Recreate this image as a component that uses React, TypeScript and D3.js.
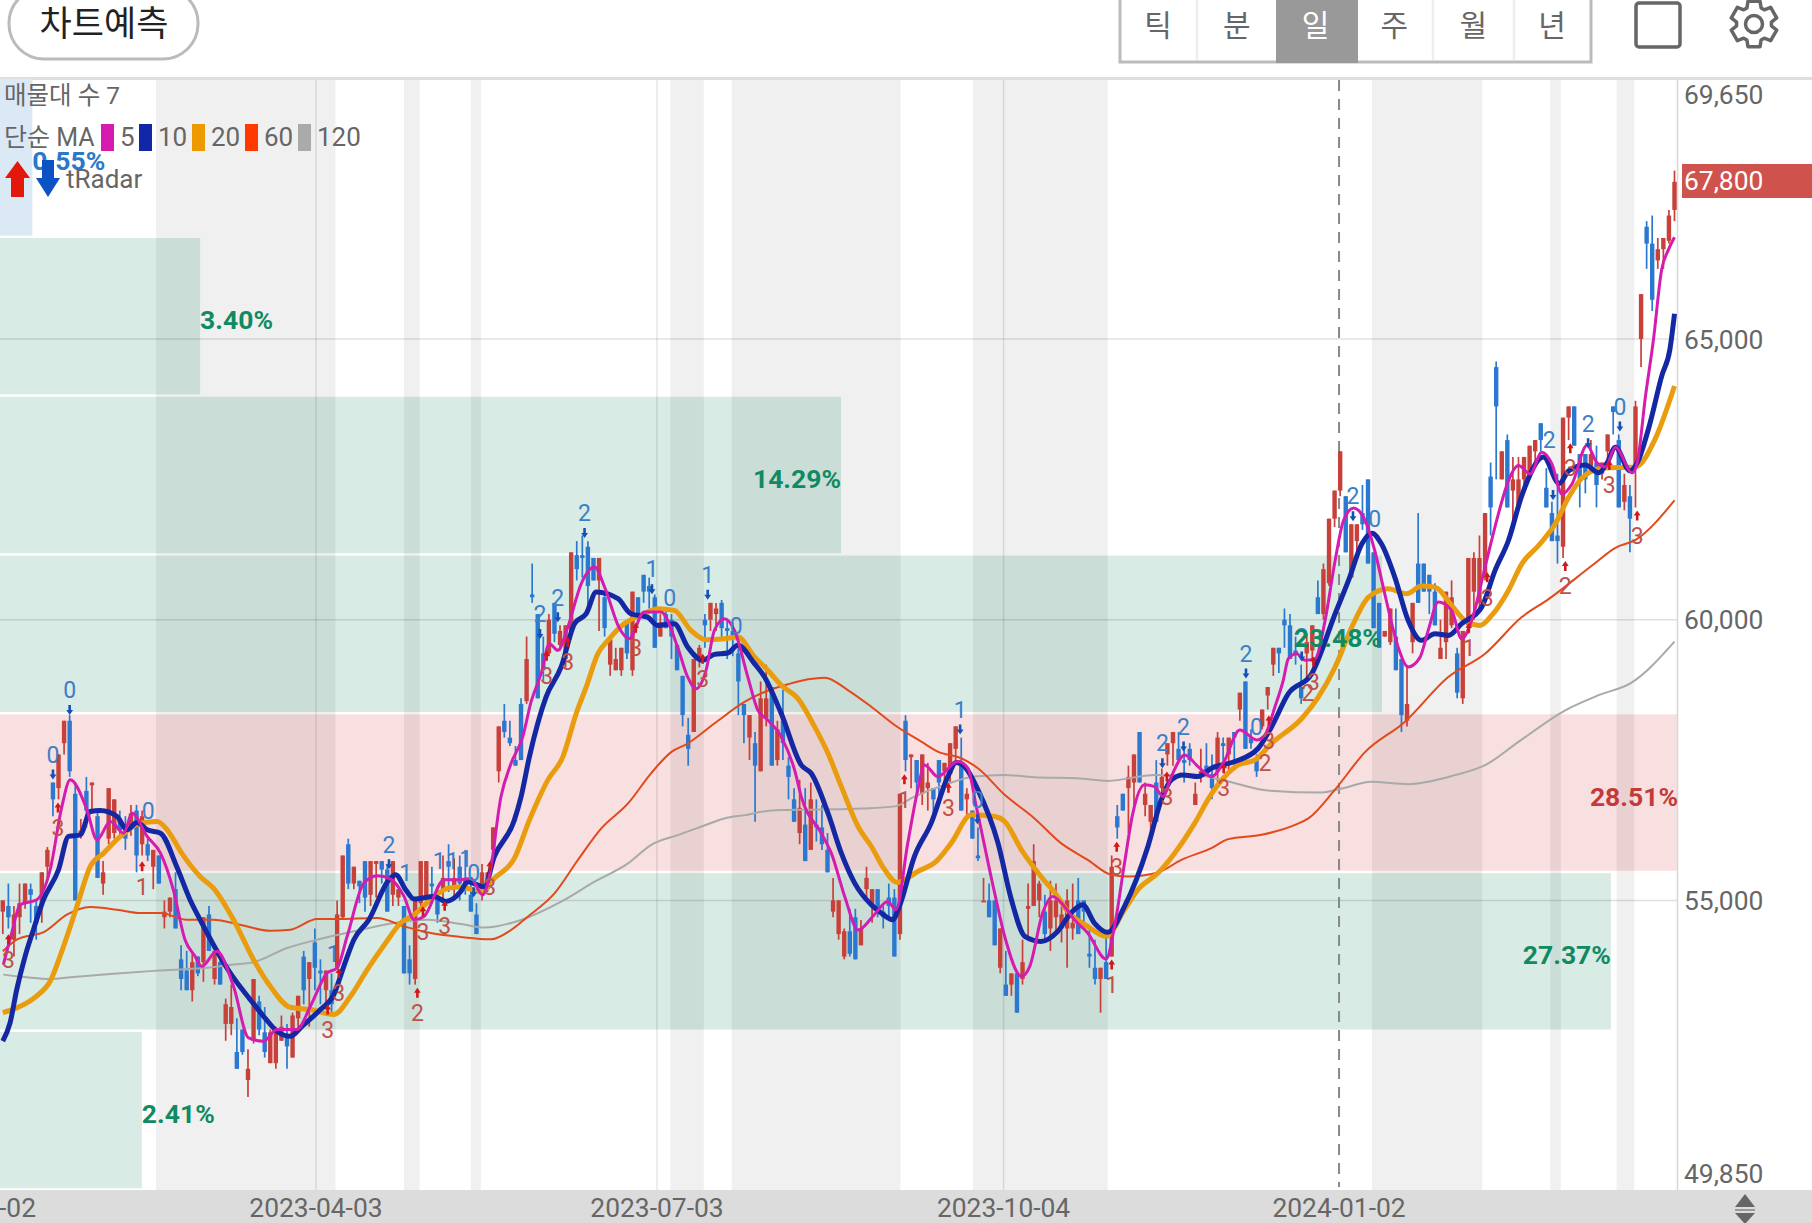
import * as d3 from 'd3';

const FONT = "Roboto, 'Noto Sans CJK KR', sans-serif";

// daily candles as [open, high, low, close]
const candlesSpring = [
  [54800,55000,54400,55000],[54900,55300,54500,54700],[54300,54900,54000,54750],[54700,55300,54400,54950],[54950,55300,54850,55300],
  [55200,55300,54600,55100],[54900,55000,54300,54600],[54950,55500,54600,55500],[55600,55950,55350,55900],[57100,57100,56500,56800],
  [57000,57600,56800,57600],[57800,58200,57600,58200],[58200,58300,57200,57300],[56900,57100,55000,55000],[56150,56450,56100,56250],
  [56950,57200,56300,56600],[57050,57100,56550,57100],[56500,56600,55400,55400],[55300,55700,55100,55500],[56100,57000,56000,57000],
  [56200,56800,56100,56800],[56450,56600,56100,56250],[56250,56500,55900,56100],[56300,56700,56150,56550],[56600,56700,55500,55800],
  [56000,56600,55800,56500],[56000,56100,55700,55800],[55600,55900,55200,55900],[55800,55800,55300,55300],[54700,55000,54500,54800],
  [54800,55050,54700,55050],[55200,55500,54500,54500],[53950,54200,53400,53600],[53750,54100,53400,53400],[53400,54050,53200,53900],
  [54000,54000,53650,53700],[53900,54700,53550,54700],[54750,54900,54100,54100],[53600,54100,53500,54100],[53900,54050,53500,53500],
  [52800,53250,52500,53150],[52800,53500,52600,53100],[52300,52900,52000,52000],[52700,52700,52250,52300],[51800,52350,51500,52000],
  [52500,53600,52450,53600],[53200,53300,52600,52700],[52650,53100,52200,52300],[52100,52700,52100,52650],[52100,52750,52000,52700],
  [52500,52950,52500,52750],[52600,52800,52000,52400],[52200,53000,52200,52950],[52900,53300,52750,53300],[54000,54100,53150,53400],
  [53600,53900,52750,53900],[54250,54500,53400,53800],[53750,53950,53150,53700],[53400,53750,53150,53750],[53400,53700,53000,53150],
];
const candlesSummer = [
  [53800,55000,53800,54750],[54700,55800,54650,55800],[56000,56100,55200,55300],[55300,55600,55200,55600],[55350,55350,54950,55250],
  [55700,55700,54800,55050],[55100,55700,54900,55700],[55650,55700,55050,55700],[55700,55700,55300,55550],[55550,55650,54800,54800],
  [55100,55700,54900,55700],[55050,55200,54900,55200],[54900,54900,53700,53700],[53950,54200,53500,53700],[53600,55050,53500,55050],
  [54950,55700,54800,55700],[55050,55700,54950,55700],[55300,55600,54950,55250],[55050,55200,54600,54750],[55150,55800,54950,55400],
  [55700,56000,55150,55600],[55250,55750,55050,55400],[55600,55800,55000,55300],[55400,55900,55100,55250],[55100,55350,54800,54800],
  [54750,54950,54400,54400],[55100,55650,55000,55500],[55200,55500,55150,55500],[55900,56300,55750,56300],[57300,58100,57100,58100],
  [58200,58500,57900,58000],[57900,58200,57750,57800],[57500,57750,57400,57400],[58500,58600,57500,57500],[58550,59700,58500,59300],
  [60450,61000,60300,60400],[60100,60100,58600,58600],[59400,59700,58900,59100],[59400,60100,59350,60000],[60300,60300,59600,59750],
  [59550,59900,59450,59800],[59300,59900,59150,59900],[59800,61200,59650,61200],[61150,61400,60700,60900],[61150,61500,60750,61100],
  [61300,61400,60150,60600],[61100,61100,60700,60700],[60700,61100,59800,61100],[60400,60500,59700,59850],[59200,59650,59000,59650],
  [59100,59500,59100,59300],[59100,59500,59000,59500],[59950,59950,59300,59400],[59100,60500,59000,60500],[60400,60400,60050,60100],
  [60800,60800,60300,60500],[60600,60750,60200,60500],[60400,60450,59500,59500],
];
const candlesAutumn = [
  [59700,60100,59700,59950],[60100,60200,59850,59850],[60000,60100,59300,59700],[59550,59550,59100,59100],[59000,59000,58100,58300],
  [57950,58250,57400,57700],[58000,59300,58000,59300],[59300,59550,59150,59500],[60000,60100,59500,59900],[60000,60300,59800,60300],
  [60100,60300,59800,60200],[60300,60350,59650,59850],[59850,60000,59300,59800],[59800,59950,59350,59650],[59400,59550,58300,58900],
  [58500,58500,57800,58300],[57900,58300,57500,58300],[57800,58000,56400,57400],[57300,58900,57300,58600],[58250,59200,58100,58600],
  [58800,58800,57400,57400],[57500,58200,57400,58050],[58200,58750,57500,57800],[57400,57550,56800,57200],[56800,57000,56400,56400],
  [56200,57150,56000,56650],[56350,57000,55700,55700],[55900,57100,55900,56800],[56350,56800,56050,56300],[56300,56700,55900,56000],
  [55900,56200,55500,55500],[54800,55400,54700,55000],[54400,55000,54300,55000],[54000,54500,53950,54450],[54450,54850,54000,54050],
  [54700,54850,53950,53950],[54200,54650,54200,54500],[55200,55600,55000,55400],[54900,55200,54600,55200],[55200,55200,54700,54850],
  [54800,54900,54500,54700],[55050,55300,54700,54900],[55050,55200,54000,54000],[54400,56900,54300,56900],[58200,58300,57300,57500],
  [57550,57600,57000,57600],[57500,57500,56900,57100],[56900,57600,56700,57600],[57000,57450,56600,57100],[57000,57000,56500,56800],
  [57500,57500,56850,57100],[57300,57450,57100,57450],[57250,57800,57100,57800],[57700,58100,57500,58100],[57450,57900,56600,56600],
  [56800,57000,56500,56900],[56600,56600,56100,56100],[55800,56300,55700,55750],[55000,55400,55000,55000],[55000,55300,54700,54700],
  [55000,55000,54200,54200],[53800,54500,53700,54500],
];
const candlesWinter = [
  [53500,54100,53300,53300],[53500,53700,53300,53700],[53700,53700,53000,53000],[53600,54300,53500,53900],[54850,55300,54350,54900],
  [54900,56000,54900,55700],[55000,55350,54700,55300],[54800,55100,54250,54400],[54500,55350,54100,55000],[54700,55300,54400,55000],
  [54500,54900,54250,54750],[54500,55200,53800,55000],[54500,55300,54300,54600],[55000,55400,54400,54400],[55000,55000,54550,54800],
  [54050,54500,53800,54000],[53800,54300,53500,53600],[53600,53800,53000,53800],[53900,54400,53600,53600],[54000,55800,54000,55600],
  [56500,56700,56100,56300],[56900,56900,56600,56600],[57000,57400,56200,57200],[57100,57600,56700,57600],[58000,58000,57100,57100],
  [56700,57100,56500,56900],[56400,56700,56100,56700],[57100,57500,56400,56400],[57000,57350,56900,57200],[57600,57800,57400,57800],
  [57800,58000,57400,58000],[57700,58000,57450,57500],[57500,57700,57100,57450],[57700,57800,57400,57500],[56700,57100,56700,56900],
  [57250,57700,57100,57300],[57400,57800,57200,57250],[57250,57600,56800,57000],[57300,58000,57100,57900],[57800,57900,57350,57750],
  [57600,57900,57300,57900],[58000,58000,57400,57900],[58400,58700,58200,58700],[58900,58900,57700,57700],[57900,58050,57700,57800],
  [57500,57600,57200,57300],[58100,58400,58050,58400],[58650,58800,58400,58800],[59200,59500,59000,59500],[59500,59500,59050,59400],
  [60000,60200,59500,59900],[59900,60100,59300,59300],[59450,59700,59200,59400],[58800,59200,58500,58600],[59400,59750,58900,59600],
  [59450,59900,59300,59900],[60400,60700,60100,60100],[60100,61000,60000,60900],[60650,61800,60600,61800],[61800,62300,61650,62300],
];
const candlesNewYear = [
  [62300,63000,62200,63000],[62200,62200,61200,61200],[60750,61700,60750,61700],[61400,61700,61100,61700],[61900,62400,61600,61700],
  [62500,62500,61000,61000],[61200,61200,59850,59850],[60300,60300,59500,59500],[59700,59800,59700,59800],[59600,60200,59550,60200],
  [59700,60200,59100,59100],[59300,59300,58000,58300],[58200,59200,58100,58500],[59600,60300,59400,60300],[61000,61900,60300,60300],
  [61000,61000,60500,60500],[60800,60800,60100,60500],[60500,60650,59900,59900],[59300,60000,59300,59500],[59600,60500,59300,60500],
  [59900,60700,59850,60400],[59400,59500,58600,58700],[58600,59800,58500,59800],[59900,61100,59750,61100],[60500,61200,60000,61100],
  [60300,61500,60200,61100],[60800,61900,60700,61900],[62550,62800,61500,62000],[64500,64600,62500,63800],[62500,63000,62500,63000],
  [63200,63300,62000,62000],[62300,62900,61750,62500],[62000,62900,62000,62500],[62500,62900,62250,62900],[62600,63100,62550,63100],
  [63000,63200,62750,63200],[63500,63500,63000,63200],[62350,62700,62000,62000],[61900,62100,61400,61400],[61500,62600,61000,61400],
  [61300,63600,61100,63600],[63600,63800,63200,63800],[63800,63800,63100,63100],[62950,62950,62000,62500],[62950,62950,62250,62500],
  [62700,63200,62600,62950],[62800,63100,62000,62400],[62600,62800,62500,62800],[63000,63300,62700,63300],[63800,63800,63300,63700],
  [63200,63300,62000,62000],[62100,62600,61950,62400],[62200,62400,61200,61800],[62700,63900,62000,63800],[65000,65800,64500,65800],
  [67000,67100,66250,66700],[66700,67200,65500,65700],[66400,66800,66250,66600],[66600,66800,66250,66800],[66750,67300,66700,67200],
  [67300,68000,67100,67800],
];
const candles = [...candlesSpring, ...candlesSummer, ...candlesAutumn, ...candlesWinter, ...candlesNewYear];

// moving averages as [candle index, price]
const ma5 = [
  [0.1,53855],[1.6,54419],[3.1,54923],[6.1,55012],[8.5,55546],[10.6,56672],[12.1,57147],[15.1,56613],[16.9,56079],[19.3,56405],
  [21.7,56198],[23.2,56554],[25.9,56139],[28.3,55842],[30.6,55190],[32.7,54300],[34.5,54004],[35.7,53826],[38.4,54093],[41.4,53470],
  [44.1,52551],[46.8,52492],[49.2,52699],[52.8,52699],[55.2,53114],[58.2,53707],[60,53796],[61.8,54360],[64.8,55308],[67.2,55439],
  [69.6,55380],[72,55071],[73.8,54656],[75.6,54715],[79.2,55368],[82.2,55368],[84,55392],[86.1,55096],[87.3,55422],[89.4,56845],
  [91.2,57438],[93.3,57913],[94.8,58535],[96.6,59039],[98.1,59573],[99.6,59454],[101.4,59870],[103.8,60640],[106.2,60937],[108,60581],
  [110.7,59840],[112.4,59662],[115.1,60136],[118.1,60136],[121.1,59514],[122.9,58980],[124.4,58772],[126.2,59099],[127.7,59810],[129.5,60018],
  [131.3,59810],[133.7,58980],[135.5,58387],[137,58239],[139.7,57913],[142.1,57320],[143.3,56845],[146.9,56193],[148.7,55837],[151.1,55066],
  [153.5,54473],[156.4,54745],[158.8,54982],[160.3,54834],[162.4,56020],[164.2,56969],[165.4,57414],[167.8,57206],[171.4,57473],[173.2,57354],
  [174.7,56672],[178,55130],[179.8,54360],[182.8,53648],[184.3,53826],[186.6,54775],[188.4,55071],[190.5,54893],[192.3,54656],[194.7,54419],
  [198,53956],[199.5,54537],[201.3,55664],[202.8,56554],[204.9,57058],[206.7,57028],[208.2,56850],[209.7,57206],[212.1,57591],[214.5,57384],
  [216.9,57206],[219,57443],[222,58036],[225,57858],[226.5,57947],[228.3,58451],[229.8,58926],[230.7,59306],[232.2,59395],[233.7,59277],
  [235.5,59306],[237.3,59988],[239.1,61056],[240.6,61767],[242.4,61992],[244.5,61767],[246.2,61233],[248,60463],[250.4,59514],[252.2,59158],
  [254.3,59324],[255.8,59810],[257.6,60314],[260,60166],[261.8,59662],[263.6,59988],[266,60937],[268.4,61886],[270.2,62479],[272,62746],
  [274.1,62597],[276.2,62983],[278,62775],[279.8,62241],[281.6,62419],[284.3,63109],[286.1,62793],[287.6,62722],[289.4,63074],[292.4,62617],
  [293.3,62793],[294.8,63988],[296.2,64972],[297.7,66237],[298.9,66589],[300,66814],
];
const ma10 = [
  [0,52492],[1.3,52818],[2.5,53411],[4,54004],[5.5,54478],[7.3,55012],[10,55546],[11.8,56139],[13.9,56168],[15.7,56583],
  [17.5,56601],[20.5,56494],[22.3,56257],[24.1,56388],[25.9,56257],[28.3,56198],[31.2,55605],[33.6,55012],[35.4,54656],[37.8,54211],
  [40.8,53707],[44.4,53233],[46.8,52936],[49.2,52670],[51.6,52581],[53.7,52758],[57,53055],[59.4,53322],[61.2,53826],[63,54300],
  [65.7,54656],[69.3,55368],[70.5,55457],[72.3,55190],[73.8,55024],[77.4,55071],[79.5,54982],[82.2,55160],[83.4,55333],[86.4,55244],
  [88.2,55778],[91.8,56430],[93,56845],[94.5,57557],[97.5,58624],[100.2,59158],[102.6,59929],[104.7,60107],[106.5,60492],[110.4,60374],
  [112.7,60107],[115.7,60047],[117.5,59899],[120.5,59929],[122.9,59514],[125.6,59277],[127.7,59383],[130.1,59407],[131.9,59543],[134.9,59217],
  [136.7,58980],[139.7,58328],[143.3,57409],[145.1,57260],[148.1,56549],[150.5,55837],[152.9,55304],[155.9,54918],[157.7,54770],[159.7,54656],
  [160.9,54893],[163.6,55783],[166.6,56376],[169.6,57206],[171.1,57455],[172.6,57384],[175,56969],[178.6,56020],[181,55012],[183.4,54360],
  [186.3,54270],[189.3,54448],[191.7,54775],[193.8,54923],[195.9,54597],[198.3,54431],[201.3,54893],[205.5,55961],[207.9,56791],[209.7,57147],
  [211.8,57236],[214.5,57206],[216.9,57354],[221.1,57473],[225.3,57710],[227.7,58095],[230.7,58684],[234.9,59039],[239.1,60107],[241.5,60700],
  [243.9,61352],[245.7,61542],[247.4,61352],[249.8,60759],[252.2,59988],[254.6,59632],[257,59751],[259.4,59721],[261.8,59929],[265.4,60225],
  [267.8,60878],[270.2,61411],[272.6,62212],[276.5,62898],[279.3,62427],[281,62652],[284,62757],[286.4,62617],[287.9,62793],[289.4,63074],
  [292,62652],[293.3,62793],[295.4,63425],[297.7,64339],[299.2,64831],[300,65450],
];
const ma20 = [
  [0,53000],[2.5,53085],[6,53292],[8.5,53559],[10.9,54182],[13.3,54893],[15.7,55605],[18.1,55842],[21.1,56139],[24.7,56376],
  [27.7,56405],[29.5,56257],[32.1,55842],[35.4,55427],[37.8,55219],[41.4,54656],[45,53944],[48,53470],[51.6,53096],[55.2,53055],
  [59.4,52966],[62.4,53292],[65.4,53767],[68.7,54241],[71.4,54597],[73.8,54745],[77.4,55071],[80,55219],[82.2,55237],[85.8,55155],
  [88.2,55392],[91.8,55748],[94.5,56430],[97.8,57142],[100.5,57557],[102.9,58328],[104.7,58802],[106.8,59395],[108.6,59632],[111.5,59929],
  [114.5,60077],[117.5,60196],[120.5,60166],[123.5,59810],[126.2,59644],[129.5,59662],[131.9,59692],[134.9,59336],[137.3,59099],[139.7,58832],
  [142.7,58595],[145.7,58090],[148.1,57616],[150.5,57023],[153.5,56312],[155.9,55956],[158.3,55540],[160.5,55320],[164.2,55516],[167.5,55694],
  [170.2,56020],[173.8,56524],[178,56494],[179.8,56405],[182.8,55901],[186.3,55427],[189.3,55071],[191.1,54804],[194.7,54537],[198,54360],
  [201.3,54834],[203.7,55190],[207.3,55486],[210.3,55842],[213.9,56376],[216.6,56850],[219.3,57206],[221.7,57414],[224.7,57502],[227.7,57799],
  [233.1,58240],[236.1,58624],[239.1,59158],[242.1,59870],[245.1,60403],[248.6,60551],[251.9,60463],[254.6,60599],[257,60581],[260,60255],
  [262.4,59988],[265.1,59899],[267.2,60077],[270.2,60522],[272.6,60996],[275.6,61322],[278.6,61708],[281,62182],[283.4,62525],[287,62700],
  [293,62722],[296.5,63214],[300,64163],
];
const ma60 = [
  [0,54093],[2.5,54300],[7.6,54448],[11.5,54745],[15.7,54881],[20.5,54834],[24.7,54775],[28.3,54775],[33,54656],[37.8,54656],
  [42.6,54567],[48,54460],[51.6,54478],[56.4,54668],[60,54668],[67.2,54686],[72,54537],[76.8,54419],[82.2,54348],[87.6,54307],
  [91.2,54473],[94.2,54710],[99,55125],[103.2,55719],[107.4,56282],[112.2,56727],[116.3,57260],[120,57646],[122.9,57794],[127.7,58150],
  [133.1,58535],[136.7,58713],[140.9,58850],[144.5,58939],[147.5,58968],[151.7,58743],[155.9,58446],[160.1,58120],[164.9,57824],[167.8,57651],
  [172,57532],[175,57354],[179.8,56880],[185.1,56465],[189.9,56020],[194.7,55723],[198.9,55457],[201.9,55427],[207.3,55498],[211.5,55723],
  [216.9,55931],[219.9,56091],[225.9,56168],[231.9,56346],[234.3,56460],[239,56964],[244.5,57646],[251.6,58180],[259.4,58980],[266,59395],
  [272.6,60047],[277.4,60367],[285.2,60965],[289.4,61281],[293,61422],[300,62125],
];
const ma120 = [
  [0.1,53678],[4.3,53630],[8.5,53600],[12.7,53636],[19.3,53689],[27.7,53749],[36,53796],[41.4,53856],[45,53897],[51,54152],
  [56.4,54300],[63,54449],[70.2,54597],[76.2,54656],[82.2,54580],[86.4,54515],[93,54651],[100.2,54977],[106.2,55333],[112.2,55659],
  [116.3,55985],[121.1,56163],[125.3,56311],[129.5,56460],[133.1,56519],[138.5,56608],[146.9,56620],[154.1,56638],[160.1,56675],[163.6,56850],
  [169,57058],[174.4,57206],[179.8,57236],[185.1,57194],[192.9,57176],[198.3,57129],[206.7,57236],[213.9,57236],[219.9,57117],[227.1,56957],
  [236.7,56921],[240.3,56994],[245.6,57112],[252.2,57071],[260.6,57231],[266,57409],[272,57824],[280.4,58387],[286.5,58660],[292.3,58880],
  [300,59610],
];

// signal labels as [candle index, price, text, has arrow]
const peakMarks = [
  [12,58750,'0',1],[9,57600,'0',1],[26.1,56600,'0',0],[69.3,56000,'2',1],[72.3,55500,'1',0],[78.3,55700,'1',0],[59.3,54050,'1',0],
  [80.7,55700,'1',0],[83.1,55750,'1',0],[84.5,55500,'0',1],[104.4,61900,'2',1],[96.4,60100,'2',1],[99.6,60400,'2',1],[116.5,60900,'1',1],
  [119.7,60400,'0',0],[126.5,60800,'1',1],[131.6,59900,'0',0],[171.8,58400,'1',1],[174.9,56800,'0',1],[208.1,57800,'2',1],[211.9,58100,'2',1],
  [225,58100,'0',0],[223.1,59400,'2',1],[233.1,59700,'2',1],[242.3,62200,'2',1],[246.2,61800,'0',0],[277.5,63200,'2',0],[278.2,62580,'',1],
  [284.5,63500,'2',1],[290.2,63800,'0',1],
];
const troughMarks = [
  [9.9,56300,'3',1],[1,53950,'3',1],[25,55250,'1',1],[58.3,52700,'3',1],[60.3,53350,'3',1],[75.4,54450,'3',1],[74.4,53000,'2',1],
  [79.3,54550,'3',1],[87.4,55250,'3',1],[97.6,59000,'3',1],[101.4,59250,'3',1],[113.6,59500,'3',1],[125.6,58950,'3',1],[161.8,56800,'1',1],
  [169.7,56650,'3',1],[199.9,55600,'3',1],[199,53500,'1',1],[208.9,56850,'3',1],[219.1,57000,'3',1],[226.5,57450,'2',0],[227.2,57850,'3',1],
  [235.2,58900,'3',1],[234.2,58700,'2',0],[266.4,60400,'3',1],[263.1,59500,'1',1],[280.4,60600,'2',1],[281.3,62700,'3',1],[288.3,62400,'3',1],
  [293.3,61500,'3',1],
];

// volume profile, top price band first
const profilePercents = [0.55, 3.4, 14.29, 23.48, 28.51, 27.37, 2.41];
const profileKinds = ['low', 'mid', 'mid', 'mid', 'high', 'mid', 'mid'];

// shaded tRadar spans in candle indices
const radarStart = [27.5, 72, 84, 119.8, 130.8, 174.1, 245.7, 277.7, 289.6];
const radarEnd = [59.7, 74.8, 85.8, 125.8, 161.1, 198.3, 265.5, 279.6, 292.8];

const priceTicks = [69650, 65000, 60000, 55000, 49850];
const dateTicks = ['2023-01-02', '2023-04-03', '2023-07-03', '2023-10-04', '2024-01-02'];
const dateTickIndex = [-6, 56.2, 117.4, 179.6, 239.8];
const maPeriods = ['5', '10', '20', '60', '120'];
const tabs = ['틱', '분', '일', '주', '월', '년'];

const maColors = ['#d41cb0', '#1428a4', '#e99c0e', '#e24a1c', '#a9a9a9'];
const legendColors = ['#d81bb0', '#1226a8', '#ec9a00', '#ff3a00', '#aaaaaa'];
const RED = '#c8403a';
const BLUE = '#2a78d0';

const y = d3.scaleLinear().domain([49850, 69650]).range([1189.5, 78]);
const x = d3.scaleLinear().domain([0, candles.length - 1]).range([2.8, 1674.5]);
const pct = d3.scaleLinear().domain([0, 28.51]).range([0, 1678]);

const maLine = d3.line<number[]>()
  .x((d) => x(d[0]))
  .y((d) => y(d[1]))
  .curve(d3.curveMonotoneX);

const maSeries = [ma120, ma60, ma20, ma10, ma5];
const maSeriesColors = [maColors[4], maColors[3], maColors[2], maColors[1], maColors[0]];
const maSeriesWidths = [2, 2, 5, 5, 3];

const bandHeight = (69650 - 49850) / profilePercents.length;

// settings icon outline
const gearOutline = d3.lineRadial<number[]>()
  .angle((d) => d[0])
  .radius((d) => d[1])
  .curve(d3.curveLinearClosed)(
    d3.range(6).flatMap((i) => {
      const a = (i * Math.PI) / 3;
      return [[a - 0.26, 23.5], [a + 0.26, 23.5], [a + 0.42, 17.5], [a + 0.63, 17.5]];
    })
  );

const App = () => {
  return (
    <svg
      width={1812}
      height={1223}
      viewBox="0 0 1812 1223"
      style={{ position: 'absolute', left: 0, top: 0, display: 'block', background: '#fff' }}
      fontFamily={FONT}
    >
      {/* header */}
      <rect x={9} y={-12} width={189} height={71} rx={35} fill="#fff" stroke="#bbb" strokeWidth={3} />
      <text x={104} y={36} textAnchor="middle" fontSize={35} fill="#222">차트예측</text>
      <rect x={1120} y={-3} width={471} height={65} fill="#fff" stroke="#bbb" strokeWidth={3} />
      <rect x={1276} y={0} width={82} height={63} fill="#999" />
      {[1197, 1433, 1514].map((sx) => (
        <line key={sx} x1={sx} x2={sx} y1={0} y2={60} stroke="#eee" strokeWidth={2.5} />
      ))}
      {tabs.map((t, i) => (
        <text key={t} x={1158 + i * 78.8} y={36} textAnchor="middle" fontSize={30} fill={i === 2 ? '#fff' : '#666'}>{t}</text>
      ))}
      <rect x={1636} y={3} width={44} height={44} rx={3} fill="none" stroke="#666" strokeWidth={3.5} />
      <g transform="translate(1754,24)" fill="none" stroke="#666" strokeWidth={3.5} strokeLinejoin="round">
        <path d={gearOutline || ''} />
        <circle r={8.5} />
      </g>
      <rect x={0} y={77} width={1812} height={3} fill="#dedede" />

      {/* volume profile */}
      {profilePercents.map((p, i) => {
        const top = y(69650 - i * bandHeight);
        const bottom = y(69650 - (i + 1) * bandHeight);
        const kind = profileKinds[i];
        const fill = kind === 'high' ? '#f8dfe0' : kind === 'low' ? '#dbe9f7' : '#d8ebe5';
        return <rect key={p} x={0} y={top + 1.2} width={pct(p)} height={bottom - top - 2.4} fill={fill} />;
      })}

      {/* radar spans */}
      {radarStart.map((s, i) => (
        <rect key={s} x={x(s)} y={80} width={x(radarEnd[i]) - x(s)} height={1110} fill="#000" fillOpacity={0.06} />
      ))}

      {/* grid */}
      {priceTicks.slice(1, 4).map((t) => (
        <line key={t} x1={0} x2={1677} y1={y(t)} y2={y(t)} stroke="#000" strokeOpacity={0.12} strokeWidth={1.5} />
      ))}
      {dateTickIndex.slice(1, 4).map((k) => (
        <line key={k} x1={x(k)} x2={x(k)} y1={80} y2={1190} stroke="#000" strokeOpacity={0.1} strokeWidth={1.5} />
      ))}
      <line x1={1677.5} x2={1677.5} y1={80} y2={1190} stroke="#d8d8d8" strokeWidth={1.5} />
      <line x1={x(239.8)} x2={x(239.8)} y1={80} y2={1187} stroke="#888" strokeWidth={2} strokeDasharray="11 8" />

      {/* candles */}
      {candles.map((c, i) => {
        const [open, high, low, close] = c;
        const color = close >= open ? RED : BLUE;
        const top = y(Math.max(open, close));
        const bottom = y(Math.min(open, close));
        return (
          <g key={i}>
            <line x1={x(i)} x2={x(i)} y1={y(high)} y2={y(low)} stroke={color} strokeWidth={1.7} />
            <rect x={x(i) - 2.2} y={top} width={4.4} height={Math.max(bottom - top, 2)} fill={color} />
          </g>
        );
      })}

      {/* moving averages */}
      {maSeries.map((s, i) => (
        <path
          key={i}
          d={maLine(s) || ''}
          fill="none"
          stroke={maSeriesColors[i]}
          strokeWidth={maSeriesWidths[i]}
          strokeLinejoin="round"
        />
      ))}

      {/* signal marks */}
      {peakMarks.map((m, i) => (
        <g key={i} transform={`translate(${x(m[0] as number)},${y(m[1] as number)})`}>
          <text textAnchor="middle" dy="0.36em" fontSize={23} fill="#3a80c8">{m[2]}</text>
          {m[3] ? <path d="M-1.3,15 H1.3 V20 H3.4 L0,25 L-3.4,20 H-1.3 Z" fill="#1450b8" /> : null}
        </g>
      ))}
      {troughMarks.map((m, i) => (
        <g key={i} transform={`translate(${x(m[0] as number)},${y(m[1] as number)})`}>
          <text textAnchor="middle" dy="0.36em" fontSize={23} fill="#c0504a">{m[2]}</text>
          {m[3] ? <path d="M-1.3,-15 H1.3 V-20 H3.4 L0,-25 L-3.4,-20 H-1.3 Z" fill="#d01818" /> : null}
        </g>
      ))}

      {/* volume profile labels */}
      {profilePercents.map((p, i) => {
        const mid = y(69650 - (i + 0.5) * bandHeight);
        const kind = profileKinds[i];
        const fill = kind === 'high' ? '#c43a3a' : kind === 'low' ? '#2a78c8' : '#0f8a62';
        return (
          <text
            key={p}
            x={pct(p)}
            y={mid + 3.5}
            dy="0.36em"
            textAnchor={p < 5 ? 'start' : 'end'}
            fontSize={26.5}
            fontWeight={700}
            fill={fill}
          >
            {p.toFixed(2)}%
          </text>
        );
      })}

      {/* legend */}
      <text x={4} y={104} fontSize={24.5} fill="#666">매물대 수 7</text>
      <text x={4} y={146} fontSize={25} fill="#666">단순 MA</text>
      {maPeriods.map((m, i) => {
        const sx = [101, 139, 192, 245, 298][i];
        return (
          <g key={m}>
            <rect x={sx} y={124} width={13} height={27} fill={legendColors[i]} />
            <text x={sx + 19} y={146} fontSize={26} fill="#666">{m}</text>
          </g>
        );
      })}
      <path d="M17.5,161 L30,178 H24 V197 H11 V178 H5 Z" fill="#e3170a" />
      <path d="M42,160 H54 V178 H60 L48,197 L36,178 H42 Z" fill="#0b52c4" />
      <text x={66} y={188} fontSize={26} fill="#666">tRadar</text>

      {/* right axis */}
      <rect x={1682} y={164} width={130} height={34} fill="#d0524c" />
      <text x={1684} y={190} fontSize={26.4} fill="#fff">67,800</text>
      {priceTicks.map((t, i) => (
        <text
          key={t}
          x={1684}
          y={y(t) + (i === 0 ? 16 : i === priceTicks.length - 1 ? -16 : 0)}
          dy="0.36em"
          fontSize={26.4}
          fill="#666"
        >
          {d3.format(',')(t)}
        </text>
      ))}

      {/* date axis */}
      <rect x={0} y={1190} width={1812} height={33} fill="#dcdcdc" />
      {dateTicks.map((d, i) => (
        <text key={d} x={x(dateTickIndex[i])} y={1217} textAnchor="middle" fontSize={26.4} fill="#666">{d}</text>
      ))}
      <path d="M1745,1194 L1755,1207 H1735 Z" fill="#666" />
      <rect x={1735} y={1209} width={20} height={2} fill="#999" />
      <path d="M1735,1213 H1755 L1745,1224 Z" fill="#666" />
    </svg>
  );
};

export default App;
